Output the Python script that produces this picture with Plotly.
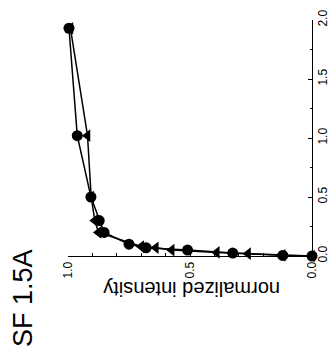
import plotly.graph_objects as go

# Series read from the (rotated) reference
circle_intensity = [0.996, 0.962, 0.906, 0.872, 0.852, 0.75, 0.68, 0.51, 0.325, 0.12, 0.0]
circle_y = [1.93, 1.02, 0.5, 0.3, 0.2, 0.1, 0.07, 0.05, 0.025, 0.005, 0.0]

tri_intensity = [0.99, 0.92, 0.905, 0.89, 0.875, 0.70, 0.64, 0.575, 0.39, 0.262, 0.12, 0.0]
tri_y = [1.93, 1.02, 0.5, 0.3, 0.2, 0.08, 0.07, 0.05, 0.03, 0.02, 0.005, 0.0]

x_ticks = [1.0, 0.5, 0.0]
y_ticks = [0.0, 0.5, 1.0, 1.5, 2.0]

FONT = "Liberation Sans, Arial, sans-serif"

OFF = 8  # default page body margin
W, H = 336 - OFF, 359 - OFF
L, T = 68 - OFF, 20 - OFF
R = 336 - 312
B = 359 - 256
PW, PH = W - L - R, H - T - B


def px_to_paper(px, py):
    # window pixel -> paper coords
    return (px - OFF - L) / PW, (H - B - (py - OFF)) / PH


fig = go.Figure()
fig.add_trace(go.Scatter(
    x=tri_intensity, y=tri_y, mode="lines+markers",
    line=dict(color="black", width=1.5),
    marker=dict(symbol="triangle-left", size=11, color="black"),
    cliponaxis=False, showlegend=False))
fig.add_trace(go.Scatter(
    x=circle_intensity, y=circle_y, mode="lines+markers",
    line=dict(color="black", width=1.5),
    marker=dict(symbol="circle", size=11, color="black"),
    cliponaxis=False, showlegend=False))

ax_title_x, ax_title_y = px_to_paper(192, 289)
title_x, title_y = px_to_paper(23, 298)

fig.update_layout(
    width=W, height=H,
    margin=dict(l=L, r=R, t=T, b=B, autoexpand=False),
    paper_bgcolor="white", plot_bgcolor="white",
    font=dict(family=FONT, color="black", size=12),
    xaxis=dict(range=[1.0, 0.0], tickvals=x_ticks, tickformat=".1f",
               tickangle=-90, showgrid=False, zeroline=False, automargin=False,
               showline=True, linecolor="black", linewidth=1,
               ticks="inside", ticklen=4, tickcolor="black",
               ticklabeloverflow="allow",
               minor=dict(dtick=0.1, ticks="inside", ticklen=3, tickcolor="black"),
               tickfont=dict(size=12)),
    yaxis=dict(range=[0.0, 2.0], tickvals=y_ticks, tickformat=".1f",
               side="right", tickangle=-90, showgrid=False, zeroline=False,
               automargin=False, ticklabeloverflow="allow",
               showline=True, linecolor="black", linewidth=1,
               ticks="inside", ticklen=4, tickcolor="black",
               minor=dict(dtick=0.25, ticks="inside", ticklen=2, tickcolor="black"),
               tickfont=dict(size=12)),
    annotations=[
        dict(text="normalized intensity", xref="paper", yref="paper",
             x=ax_title_x, y=ax_title_y, xanchor="center", yanchor="middle",
             showarrow=False, textangle=180,
             font=dict(size=20, family=FONT, color="black")),
        dict(text="SF 1.5A", xref="paper", yref="paper",
             x=title_x, y=title_y, xanchor="center", yanchor="middle",
             showarrow=False, textangle=-90,
             font=dict(size=27, family=FONT, color="black")),
    ],
)

fig.write_html("out.html")
